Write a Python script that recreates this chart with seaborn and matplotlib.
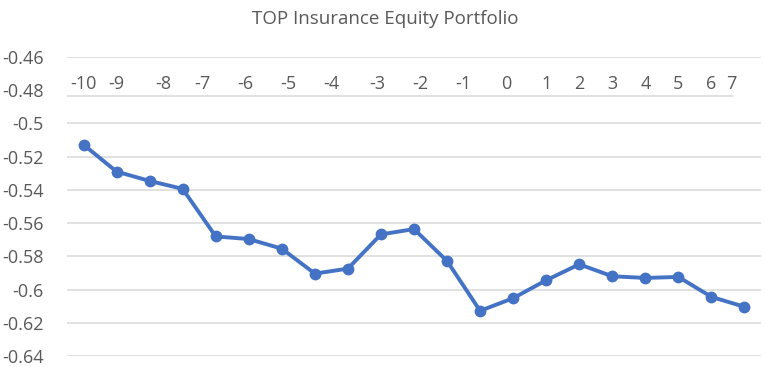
import numpy as np
import pandas as pd
from matplotlib import pyplot as plt
from matplotlib.ticker import FixedLocator, FuncFormatter
import seaborn as sns

values = [-0.5128, -0.5290, -0.5346, -0.5394, -0.5680, -0.5696, -0.5754,
          -0.5904, -0.5874, -0.5668, -0.5636, -0.5828, -0.6128, -0.6052,
          -0.5944, -0.5848, -0.5920, -0.5930, -0.5924, -0.6044, -0.6104]
x_labels = ['-10', '-9', '-8', '-7', '-6', '-5', '-4', '-3', '-2', '-1',
            '0', '1', '2', '3', '4', '5', '6', '7']
y_ticks = [-0.64, -0.62, -0.60, -0.58, -0.56, -0.54, -0.52, -0.50, -0.48, -0.46]
title = 'TOP Insurance Equity Portfolio'

# where the (oddly spaced) category labels sit along the x axis, in point units
label_x = [0.0, 1.0, 2.4, 3.6, 4.9, 6.2, 7.5, 8.9, 10.2, 11.5,
           12.8, 14.0, 15.0, 16.0, 17.0, 18.0, 19.0, 19.6]

df = pd.DataFrame({'obs': np.arange(len(values)), 'value': values})

TEXT_C = '#595959'
GRID_C = '#D9D9D9'
LINE_C = '#4472C4'

sns.set_style('white')
plt.rcParams['font.family'] = ['Open Sans', 'DejaVu Sans']

fig = plt.figure(figsize=(7.65, 3.67), dpi=100)
ax = fig.add_axes([67/765, 1 - 356/367, (761 - 67)/765, 299/367])

# gridlines (the -0.48 one is replaced by the category axis line)
for yv in y_ticks:
    if abs(yv + 0.48) > 1e-6:
        ax.axhline(yv, color=GRID_C, lw=1.1, zorder=0)
ax.plot([-0.5, 19.65], [-0.4833, -0.4833], color=GRID_C, lw=1.1, zorder=0)

sns.lineplot(data=df, x='obs', y='value', marker='o', color=LINE_C,
             lw=2.8, markersize=8.5, markeredgewidth=0, ax=ax, zorder=5)

for lx, lab in zip(label_x, x_labels):
    ax.text(lx, -0.4764, lab, ha='center', va='center', fontsize=13, color=TEXT_C)

ax.set_xlim(-0.5, len(values) - 0.5)
ax.set_ylim(-0.64, -0.46)
ax.yaxis.set_major_locator(FixedLocator(y_ticks))
ax.yaxis.set_major_formatter(FuncFormatter(lambda v, p: f'{round(v, 2):g}'))
ax.set_xticks([])
ax.tick_params(axis='y', length=0, pad=17, labelsize=13, labelcolor=TEXT_C)
ax.set_xlabel('')
ax.set_ylabel('')
for s in ax.spines.values():
    s.set_visible(False)

fig.text(385/765, 1 - 19/367, title, ha='center', va='center', fontsize=13.5, color=TEXT_C)

fig.savefig('out.png', dpi=100)
plt.close('all')
